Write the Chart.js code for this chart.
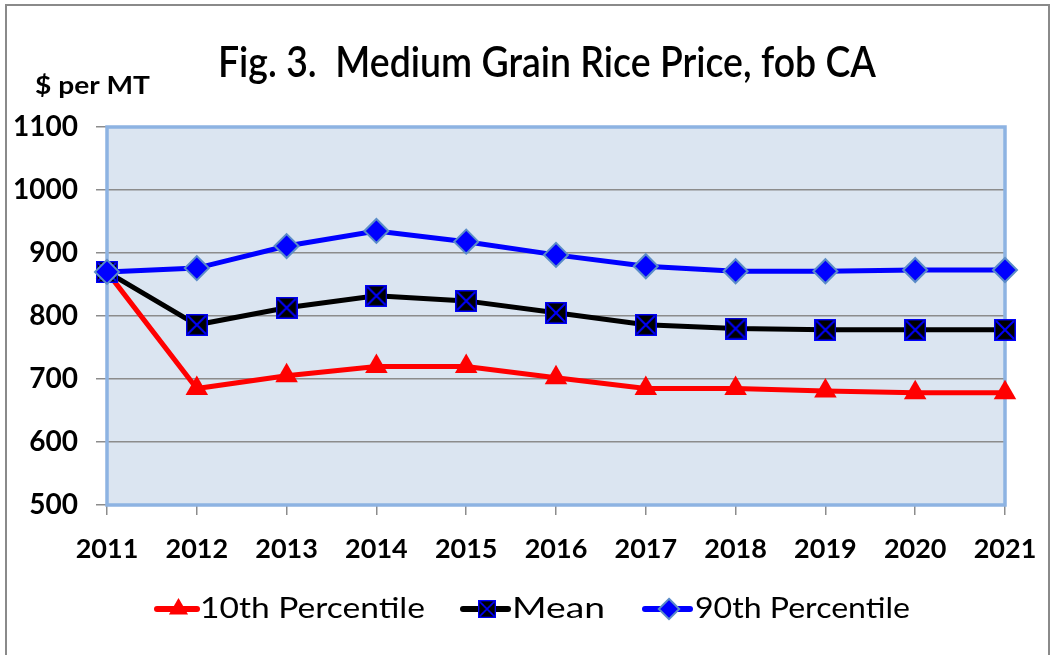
<!DOCTYPE html>
<html>
<head>
<meta charset="utf-8">
<script src="https://cdn.jsdelivr.net/npm/chart.js@4.4.1/dist/chart.umd.min.js"></script>
<style>
  html, body { margin: 0; padding: 0; background: #ffffff; }
  #wrap { width: 1056px; height: 655px; position: relative; }
</style>
</head>
<body>
<div id="wrap"><canvas id="c" width="1056" height="655"></canvas></div>
<script>
const years = ['2011','2012','2013','2014','2015','2016','2017','2018','2019','2020','2021'];
const p10 = [870, 685, 705, 720, 720, 702, 685, 685, 681, 678, 678];
const meanVals = [870, 786, 813, 832, 824, 805, 786, 780, 778, 778, 778];
const p90 = [870, 876, 911, 935, 918, 897, 879, 871, 871, 873, 873];
const yTicks = [500, 600, 700, 800, 900, 1000, 1100];

const titleText = 'Fig. 3.  Medium Grain Rice Price, fob CA';
const unitText = '$ per MT';
const seriesNames = ['10th Percentile', 'Mean', '90th Percentile'];

const mainFont = 'Lato, "DejaVu Sans Condensed", "Liberation Sans", sans-serif';

// mean marker: black square with blue X
function makeMeanMarker(size) {
  const c = document.createElement('canvas');
  c.width = size; c.height = size;
  const g = c.getContext('2d');
  g.fillStyle = '#000000';
  g.fillRect(0, 0, size, size);
  g.strokeStyle = '#0000ff';
  g.lineWidth = 1.5;
  g.strokeRect(0.75, 0.75, size - 1.5, size - 1.5);
  g.lineWidth = 2;
  g.beginPath();
  g.moveTo(2, 2); g.lineTo(size - 2, size - 2);
  g.moveTo(size - 2, 2); g.lineTo(2, size - 2);
  g.stroke();
  return c;
}
const meanMarker = makeMeanMarker(22);

function drawScaledText(ctx, text, x, y, font, targetW, align) {
  ctx.save();
  ctx.font = font;
  const w = ctx.measureText(text).width;
  const s = targetW / w;
  ctx.textBaseline = 'middle';
  ctx.textAlign = 'left';
  let x0 = x;
  if (align === 'center') x0 = x - targetW / 2;
  ctx.translate(x0, y);
  ctx.scale(s, 1);
  ctx.fillText(text, 0, 0);
  ctx.restore();
}

function drawShape(ctx, style, x, y, r) {
  if (style === 'triangle') {
    ctx.moveTo(x, y - r);
    ctx.lineTo(x + r * Math.sqrt(3) / 2, y + r / 2);
    ctx.lineTo(x - r * Math.sqrt(3) / 2, y + r / 2);
    ctx.closePath();
  } else if (style === 'rectRot') {
    ctx.moveTo(x, y - r);
    ctx.lineTo(x + r, y);
    ctx.lineTo(x, y + r);
    ctx.lineTo(x - r, y);
    ctx.closePath();
  }
}

const decor = {
  id: 'decor',
  beforeDraw(chart) {
    const { ctx, chartArea: a } = chart;
    ctx.save();
    ctx.fillStyle = '#dbe5f1';
    ctx.fillRect(a.left, a.top, a.right - a.left, a.bottom - a.top);
    ctx.restore();
  },
  beforeDatasetsDraw(chart) {
    const { ctx, chartArea: a } = chart;
    ctx.save();
    ctx.strokeStyle = '#8db3e2';
    ctx.lineWidth = 3.5;
    ctx.strokeRect(a.left, a.top, a.right - a.left, a.bottom - a.top);
    ctx.restore();
  },
  afterDraw(chart) {
    const { ctx } = chart;
    ctx.save();
    ctx.strokeStyle = '#8a8a8a';
    ctx.lineWidth = 2;
    ctx.strokeRect(6, 5, 1043, 660);
    ctx.fillStyle = '#000000';
    drawScaledText(ctx, titleText, 547, 63, '600 42px ' + mainFont, 658, 'center');
    drawScaledText(ctx, unitText, 35, 86, 'bold 25px ' + mainFont, 115, 'left');

    const items = [
      { ds: 0, x1: 157, x2: 200, tx: 200, tw: 225 },
      { ds: 1, x1: 463, x2: 511, tx: 512, tw: 93 },
      { ds: 2, x1: 645, x2: 693, tx: 695, tw: 215 }
    ];
    const ly = 609;
    items.forEach(it => {
      const ds = chart.data.datasets[it.ds];
      ctx.strokeStyle = ds.borderColor;
      ctx.lineWidth = 6;
      ctx.lineCap = 'round';
      ctx.beginPath();
      ctx.moveTo(it.x1, ly); ctx.lineTo(it.x2 - 3, ly);
      ctx.stroke();
      const cx = (it.x1 + it.x2) / 2;
      const ps = ds.pointStyle;
      if (ps instanceof HTMLCanvasElement) {
        const s = 18;
        ctx.drawImage(ps, cx - s / 2, ly - s / 2, s, s);
      } else {
        ctx.fillStyle = ds.pointBackgroundColor;
        ctx.strokeStyle = ds.pointBorderColor;
        ctx.lineWidth = ds.pointBorderWidth || 0;
        ctx.beginPath();
        drawShape(ctx, ps, cx, ly, ds.pointRadius * 0.85);
        ctx.fill();
        if (ds.pointBorderWidth) ctx.stroke();
      }
      ctx.fillStyle = '#000000';
      drawScaledText(ctx, seriesNames[it.ds], it.tx, ly, '29px ' + mainFont, it.tw, 'left');
    });
    ctx.restore();
  }
};

new Chart(document.getElementById('c'), {
  type: 'line',
  data: {
    labels: years,
    datasets: [
      {
        label: seriesNames[0], data: p10, order: 2,
        borderColor: '#ff0000', backgroundColor: '#ff0000', borderWidth: 5,
        pointStyle: 'triangle', pointRadius: 13, pointBackgroundColor: '#ff0000',
        pointBorderColor: '#ff0000', pointBorderWidth: 0, tension: 0, clip: false
      },
      {
        label: seriesNames[1], data: meanVals, order: 1,
        borderColor: '#000000', backgroundColor: '#000000', borderWidth: 5,
        pointStyle: meanMarker, pointRadius: 11, tension: 0, clip: false
      },
      {
        label: seriesNames[2], data: p90, order: 0,
        borderColor: '#0000ff', backgroundColor: '#0000ff', borderWidth: 5,
        pointStyle: 'rectRot', pointRadius: 12, pointBackgroundColor: '#0000ff',
        pointBorderColor: '#5b8cc8', pointBorderWidth: 2, tension: 0, clip: false
      }
    ]
  },
  options: {
    responsive: false,
    animation: false,
    layout: { padding: { left: 10, right: 51, top: 127, bottom: 90 } },
    plugins: { legend: { display: false }, title: { display: false }, tooltip: { enabled: false } },
    scales: {
      x: {
        offset: false,
        border: { display: false },
        grid: { drawOnChartArea: false, drawTicks: true, tickLength: 10, color: '#8c8c8c', lineWidth: 1.5 },
        ticks: { color: '#000000', padding: 18, maxRotation: 0, autoSkip: false,
                 font: { family: mainFont, size: 27, weight: 'bold' } },
        afterFit(scale) { scale.height = 60; }
      },
      y: {
        min: 500, max: 1100,
        border: { display: false },
        grid: { color: '#8c8c8c', lineWidth: 1.5, tickLength: 11 },
        afterBuildTicks(scale) { scale.ticks = yTicks.map(v => ({ value: v })); },
        ticks: { color: '#000000', padding: 18,
                 callback: (v) => String(v),
                 font: { family: mainFont, size: 28, weight: 'bold' } },
        afterFit(scale) { scale.width = 97; }
      }
    }
  },
  plugins: [decor]
});
</script>
</body>
</html>
